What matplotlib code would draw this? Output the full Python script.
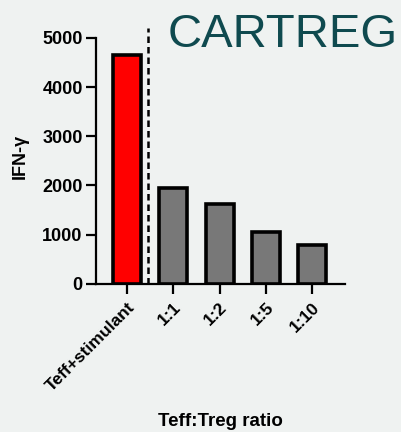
import numpy as np
import matplotlib.pyplot as plt

plt.rcParams['font.family'] = ['Liberation Sans', 'DejaVu Sans']

# IFN-γ by Teff:Treg ratio
groups = ['Teff+stimulant', '1:1', '1:2', '1:5', '1:10']
ifng = [4650, 1950, 1620, 1050, 780]
colors = ['#ff0000', '#787878', '#787878', '#787878', '#787878']

bg = '#eff2f1'
fig = plt.figure(figsize=(4.01, 4.32), dpi=100, facecolor=bg)
ax = fig.add_axes([0.239, 0.343, 0.621, 0.592])
ax.set_facecolor(bg)

x = np.arange(len(groups))
ax.bar(x, ifng, width=0.6, color=colors, edgecolor='black', linewidth=2.6, zorder=3)
ax.axvline(0.45, ymin=0, ymax=1, color='black', linestyle=(0, (2.6, 1.6)), linewidth=1.8)

ax.set_xlim(-0.67, 4.7)
ax.set_ylim(0, 5200)
ax.set_yticks([0, 1000, 2000, 3000, 4000, 5000])
ax.set_xticks(x)
ax.set_xticklabels(groups, rotation=45, ha='right', rotation_mode='anchor',
                   fontsize=12.5, fontweight='bold')
for lbl in ax.get_yticklabels():
    lbl.set_fontweight('bold')
    lbl.set_fontsize(13)

for s in ['top', 'right']:
    ax.spines[s].set_visible(False)
ax.spines['left'].set_bounds(0, 5000)
ax.spines['left'].set_linewidth(1.6)
ax.spines['bottom'].set_linewidth(1.6)
ax.tick_params(axis='both', width=1.6, length=7.5, direction='out')
ax.tick_params(axis='y', pad=2)
ax.tick_params(axis='x', pad=4)

ax.set_ylabel('IFN-γ', fontsize=13, fontweight='bold', labelpad=10)
fig.text(0.549, 0.025, 'Teff:Treg ratio', ha='center', va='center',
         fontsize=13.5, fontweight='bold')
fig.text(0.418, 0.918, 'CARTREG', ha='left', va='center', fontsize=34,
         color='#0f4a4f')

fig.savefig('out.png', dpi=100, facecolor=bg)
